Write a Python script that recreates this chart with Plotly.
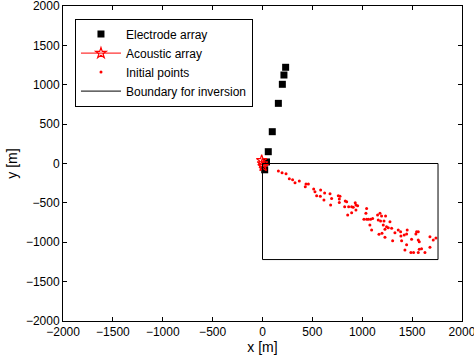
import plotly.graph_objects as go

electrode_x = [232, 215, 199, 159, 98, 58, 40, 22]
electrode_y = [1222, 1124, 1006, 764, 404, 150, 20, -80]

acoustic_x = [-8, 0, 6]
acoustic_y = [40, 0, -35]

init_x = [159, 196, 236, 269, 302, 326, 369, 436, 460, 429, 513, 526, 583, 623, 543, 580,
          677, 616, 693, 760, 777, 770, 770, 683, 830, 844, 824, 864, 894, 930, 937, 954,
          910, 937, 894, 854, 1044, 1037, 1017, 1044, 1061, 1084, 1104, 1077, 1094, 1154,
          1178, 1194, 1234, 1161, 1184, 1218, 1278, 1211, 1244, 1228, 1261, 1168, 1198,
          1228, 1295, 1361, 1385, 1328, 1388, 1421, 1451, 1445, 1545, 1562, 1538, 1495,
          1562, 1572, 1395, 1445, 1305, 1428, 1488, 1515, 1562, 1572, 1595, 1629, 1679,
          1679, 1712, 1739]
init_y = [-95, -117, -129, -193, -206, -244, -223, -261, -261, -295, -324, -358, -337, -375,
          -409, -417, -384, -464, -443, -409, -417, -451, -494, -527, -477, -485, -549, -549,
          -549, -498, -527, -536, -557, -591, -625, -654, -570, -633, -709, -709, -709, -709,
          -697, -781, -845, -654, -633, -667, -667, -718, -731, -731, -739, -781, -803, -836,
          -815, -900, -887, -938, -824, -845, -866, -879, -921, -908, -845, -896, -866, -866,
          -896, -963, -972, -993, -980, -1031, -980, -1099, -1129, -1129, -1129, -1090, -1082,
          -1129, -1065, -930, -972, -947]

boundary_x = [0, 1760, 1760, 0, 0]
boundary_y = [0, 0, -1220, -1220, 0]

ticks = [-2000, -1500, -1000, -500, 0, 500, 1000, 1500, 2000]

fig = go.Figure()
fig.add_trace(go.Scatter(x=electrode_x, y=electrode_y, mode="markers", name="Electrode array",
                         marker=dict(symbol="square", size=7, color="black")))
fig.add_trace(go.Scatter(x=acoustic_x, y=acoustic_y, mode="lines+markers", name="Acoustic array",
                         line=dict(color="red", width=1),
                         marker=dict(symbol="star-open", size=8, color="red", line=dict(width=1.2))))
fig.add_trace(go.Scatter(x=init_x, y=init_y, mode="markers", name="Initial points",
                         marker=dict(symbol="circle", size=3, color="red")))
fig.add_trace(go.Scatter(x=boundary_x, y=boundary_y, mode="lines", name="Boundary for inversion",
                         line=dict(color="black", width=1)))

axis_common = dict(range=[-2000.5, 2000.5], tickvals=ticks, ticks="inside", ticklen=4,
                   showline=True, linecolor="black", linewidth=1, mirror="allticks",
                   showgrid=False, zeroline=False, tickcolor="black",
                   ticklabeloverflow="allow", automargin=False,
                   tickfont=dict(family="Liberation Sans, Arial", size=12, color="black"))

fig.update_layout(
    width=474, height=358,
    margin=dict(l=63, r=12, t=6, b=37, autoexpand=False),
    plot_bgcolor="white", paper_bgcolor="white",
    font=dict(family="Liberation Sans, Arial", size=12, color="black"),
    xaxis=dict(**axis_common, title=dict(text="x [m]", standoff=2)),
    yaxis=dict(**axis_common, title=dict(text="y [m]", standoff=4)),
    legend=dict(x=0.03, y=0.96, xanchor="left", yanchor="top",
                bordercolor="black", borderwidth=1, bgcolor="white",
                font=dict(size=12), tracegroupgap=0, itemwidth=40),
    showlegend=True,
)

fig.write_html("out.html")
